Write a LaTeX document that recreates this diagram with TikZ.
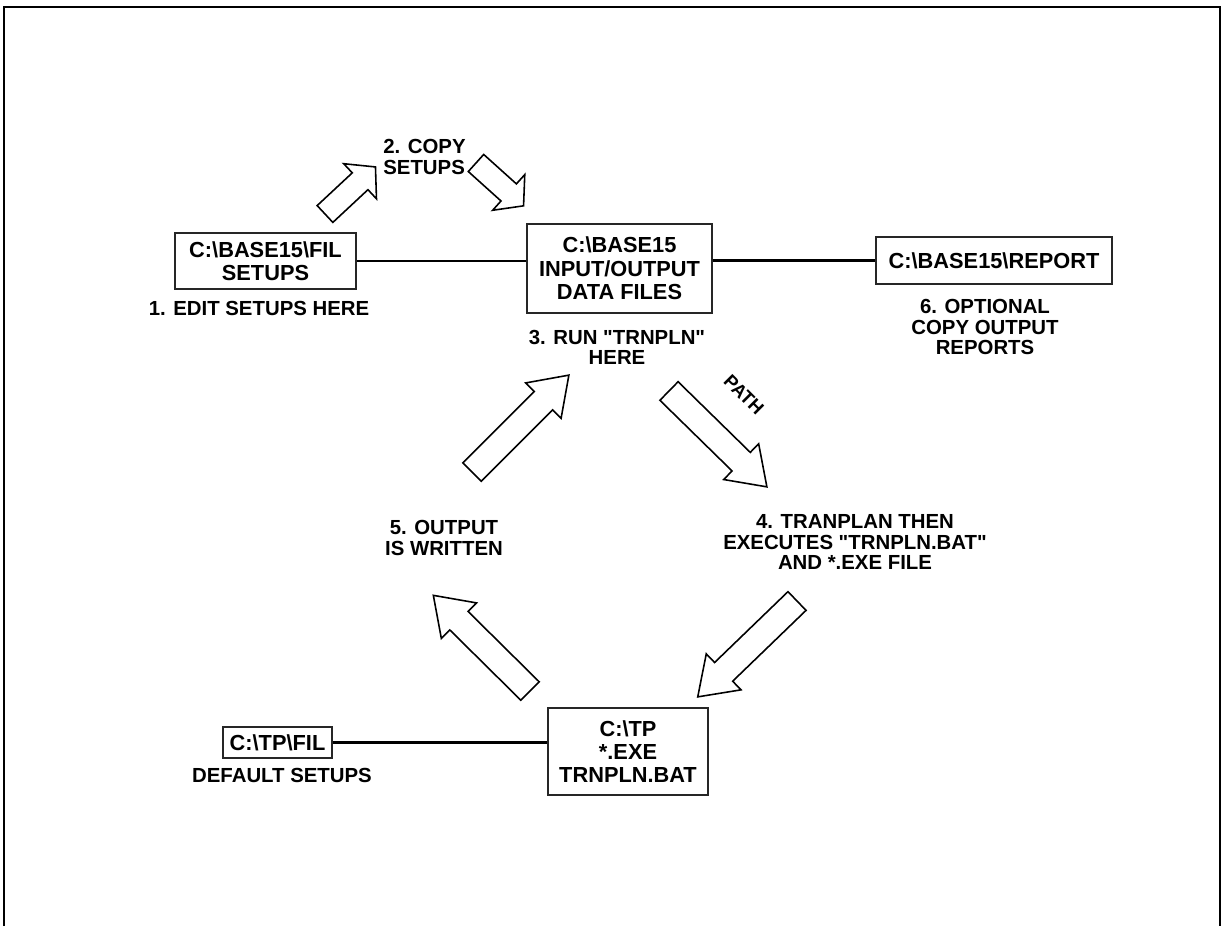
\documentclass[tikz,border=0pt]{standalone}
\usepackage{fontspec}
\setmainfont{Liberation Sans}[Ligatures=TeXOff]
\usetikzlibrary{calc}
\tikzset{
  boxnode/.style={draw=black!85, line width=0.8pt, align=center, inner sep=0pt,
    font=\fontsize{12.4}{13.3}\selectfont\bfseries},
  lbl/.style={align=center, inner sep=0pt, font=\fontsize{11.6}{11.5}\selectfont\bfseries},
  conn/.style={line width=1.5pt, black},
  blockarrow/.style={draw=black, line width=0.9pt, fill=white, line join=miter},
  frame/.style={line width=1.6pt, black}
}
% tail x, tail y, angle, length, half shaft, half head, head length
\newcommand{\blockarr}[7]{%
  \begin{scope}[shift={(#1,#2)}, rotate=#3]
    \draw[blockarrow] (0,-#5) -- ({#4-#7},-#5) -- ({#4-#7},-#6) -- (#4,0)
      -- ({#4-#7},#6) -- ({#4-#7},#5) -- (0,#5) -- cycle;
  \end{scope}}
\begin{document}
\begin{tikzpicture}[x=0.02cm, y=-0.02cm]
  \useasboundingbox (0,0) rectangle (1222,926);
  % frame (three sides)
  \draw[frame] (4,926) -- (4,7) -- (1220,7) -- (1220,926);

  % boxes
  \node[boxnode, minimum width=3.62cm, minimum height=1.12cm] (fil) at (265.5,261)
    {C:\textbackslash BASE15\textbackslash FIL\\SETUPS};
  \node[boxnode, minimum width=3.70cm, minimum height=1.78cm] (base) at (619.5,268.5)
    {C:\textbackslash BASE15\\INPUT/OUTPUT\\DATA FILES};
  \node[boxnode, minimum width=4.72cm, minimum height=0.94cm] (report) at (994,260.5)
    {C:\textbackslash BASE15\textbackslash REPORT};
  \node[boxnode, minimum width=3.20cm, minimum height=1.74cm] (tp) at (628,751.5)
    {C:\textbackslash TP\\*.EXE\\TRNPLN.BAT};
  \node[boxnode, minimum width=2.18cm, minimum height=0.62cm] (tpfil) at (277.5,742.5)
    {C:\textbackslash TP\textbackslash FIL};

  % connectors
  \draw[conn] (fil.east) -- (fil.east -| base.west);
  \draw[conn] (report.west -| base.east) -- (report.west);
  \draw[conn] (tpfil.east) -- (tpfil.east -| tp.west);

  % labels
  \node[lbl] (l1) at (259,308) {1. EDIT SETUPS HERE};
  \node[lbl, align=left, anchor=west] (l2) at (383,157) {2. COPY\\SETUPS};
  \node[lbl] (l3) at (617,347) {3. RUN "TRNPLN"\\HERE};
  \node[lbl] (l4) at (855,542) {4. TRANPLAN THEN\\EXECUTES "TRNPLN.BAT"\\AND *.EXE FILE};
  \node[lbl] (l5) at (444,538) {5. OUTPUT\\IS WRITTEN};
  \node[lbl] (l6) at (985,327) {6. OPTIONAL\\COPY OUTPUT\\REPORTS};
  \node[lbl] (ldef) at (282,775) {DEFAULT SETUPS};
  \node[lbl, rotate=-45, font=\fontsize{10.5}{11}\selectfont\bfseries] (lpath) at (744,395) {PATH};

  % block arrows
  \blockarr{325}{214}{43}{69}{11.5}{24}{21}
  \blockarr{476}{163}{-42}{64}{11.5}{24}{20}
  \blockarr{472}{472}{45}{137}{13}{25}{36}
  \blockarr{669}{391}{-44.4}{137}{13}{25}{36}
  \blockarr{797}{601}{-136}{138}{13}{25}{36}
  \blockarr{530}{691}{135.3}{136}{13}{25}{36}
\end{tikzpicture}
\end{document}
